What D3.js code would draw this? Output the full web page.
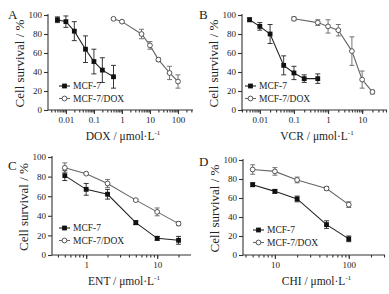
<!DOCTYPE html>
<html>
<head>
<meta charset="utf-8">
<script src="https://cdn.jsdelivr.net/npm/d3@7"></script>
<style>
  body { margin: 0; background: #fff; }
  svg { font-family: "Liberation Serif", "DejaVu Serif", serif; }
</style>
</head>
<body>
<div id="container"></div>
<script>
/* DATA */
// panel A - DOX
const concA_mcf = [0.005, 0.01, 0.02, 0.05, 0.1, 0.2, 0.5];
const survA_mcf = [95, 93, 83, 64, 51, 42, 35];
const errA_mcf = [3, 6, 10, 14, 13, 13, 12];
const concA_dox = [0.5, 1, 5, 10, 20, 50, 100];
const survA_dox = [96, 93, 80, 68, 53, 39, 30];
const errA_dox = [1, 1, 5, 4, 2, 7, 7];

// panel B - VCR
const concB_mcf = [0.005, 0.01, 0.02, 0.05, 0.1, 0.2, 0.5];
const survB_mcf = [95, 88, 80, 47, 39, 33, 33];
const errB_mcf = [2, 4, 10, 10, 7, 4, 5];
const concB_dox = [0.1, 0.5, 1, 2, 5, 10, 20];
const survB_dox = [96, 92, 88, 84, 62, 32, 19];
const errB_dox = [2, 3, 7, 6, 15, 9, 2];

// panel C - ENT
const concC = [0.5, 1, 2, 5, 10, 20];
const survC_mcf = [81, 67, 62, 33, 17, 15];
const errC_mcf = [5, 6, 5, 2, 2, 4];
const survC_dox = [89, 83, 73, 56, 44, 32];
const errC_dox = [5, 1, 4, 1, 4, 2];

// panel D - CHI
const concD = [5, 10, 20, 50, 100];
const survD_mcf = [74, 67, 59, 32, 17];
const errD_mcf = [2, 2, 3, 4, 3];
const survD_dox = [90, 88, 79, 70, 53];
const errD_dox = [5, 4, 3, 2, 3];

// tick labels
const ticksA = [0.01, 0.1, 1, 10, 100];
const ticksB = [0.01, 0.1, 1, 10];
const ticksC = [1, 10];
const ticksD = [10, 100];
const yTicks = [0, 20, 40, 60, 80, 100];
const seriesNames = ["MCF-7", "MCF-7/DOX"];

/* CONSTANTS */
const width = 389;
const height = 294;

const svg = d3.select("#container")
  .append("svg")
  .attr("width", width)
  .attr("height", height);

const zip = (xs, ys, es) => xs.map((x, i) => ({ x: x, y: ys[i], e: es[i] }));

function drawPanel(p) {
  const xScale = d3.scaleLog().domain(p.xDomain).range(p.xRange);
  const yScale = d3.scaleLinear().domain([0, 100]).range(p.yRange);
  const g = svg.append("g");

  // minor + major log ticks
  const minor = [];
  const lo = Math.floor(Math.log10(p.xDomain[0])), hi = Math.ceil(Math.log10(p.xDomain[1]));
  for (let e = lo; e <= hi; e++) {
    for (let k = 1; k <= 9; k++) {
      const v = k * Math.pow(10, e);
      if (v >= p.xDomain[0] && v <= p.xDomain[1]) minor.push(v);
    }
  }
  const xAxis = g.append("g")
    .attr("transform", `translate(0,${p.yRange[0]})`)
    .call(d3.axisBottom(xScale).tickValues(minor).tickSize(2.5).tickFormat(""));
  g.append("g")
    .attr("transform", `translate(0,${p.yRange[0]})`)
    .call(d3.axisBottom(xScale).tickValues(p.ticks).tickSize(4).tickPadding(3)
      .tickFormat(d => d3.format("~g")(d)))
    .call(a => a.select(".domain").remove());
  xAxis.select(".domain").attr("d", `M${p.xRange[0]},0H${p.xRange[1] + 1}`);

  const yAxis = g.append("g")
    .attr("transform", `translate(${p.xRange[0]},0)`)
    .call(d3.axisLeft(yScale).tickValues(yTicks).tickSize(4).tickPadding(2));
  yAxis.select(".domain").attr("d", `M0,${p.yRange[0]}V${p.yRange[1] - 1}`);

  g.selectAll(".tick text").attr("font-size", 9).attr("font-family", "Liberation Serif").attr("fill", "#222");
  g.selectAll(".domain, .tick line").attr("stroke", "#333").attr("stroke-width", 1.1);

  // axis titles
  g.append("text")
    .attr("transform", `translate(${p.xRange[0] - 24},${(p.yRange[0] + p.yRange[1]) / 2 + 1}) rotate(-90)`)
    .attr("text-anchor", "middle")
    .attr("font-size", 13)
    .attr("fill", "#222")
    .text("Cell survival / %");

  const xt = g.append("text")
    .attr("x", (p.xRange[0] + p.xRange[1]) / 2 + 3)
    .attr("y", p.yRange[0] + 30)
    .attr("text-anchor", "middle")
    .attr("font-size", 11.5)
    .attr("fill", "#222");
  xt.append("tspan").text(p.drug + " / μmol·L");
  xt.append("tspan").attr("font-size", 7).attr("dy", -5).text("-1");

  // panel letter
  g.append("text")
    .attr("x", p.letterPos[0]).attr("y", p.letterPos[1])
    .attr("font-size", 13).attr("fill", "#222")
    .text(p.letter);

  const line = d3.line().x(d => xScale(d.x)).y(d => yScale(d.y));

  p.series.forEach((s, si) => {
    const col = si === 0 ? "#222" : "#666";
    const sg = g.append("g");
    // error bars
    sg.selectAll("path.err")
      .data(s.data)
      .join("path")
      .attr("class", "err")
      .attr("d", d => {
        const x = xScale(d.x), y0 = yScale(d.y - d.e), y1 = yScale(d.y + d.e);
        return `M${x},${y0}V${y1}M${x - 2.5},${y0}H${x + 2.5}M${x - 2.5},${y1}H${x + 2.5}`;
      })
      .attr("stroke", col).attr("stroke-width", 0.9).attr("fill", "none");
    sg.append("path")
      .datum(s.data)
      .attr("d", line)
      .attr("stroke", col).attr("stroke-width", 1.1).attr("fill", "none");
    drawMarkers(sg, s.data.map(d => [xScale(d.x), yScale(d.y)]), si);
  });

  // legend
  seriesNames.forEach((name, si) => {
    const lx = p.legendPos[0], ly = p.legendPos[1] + si * 12.5;
    const col = si === 0 ? "#222" : "#666";
    g.append("line").attr("x1", lx).attr("x2", lx + 11).attr("y1", ly).attr("y2", ly)
      .attr("stroke", col).attr("stroke-width", 1.1);
    drawMarkers(g, [[lx + 5.5, ly]], si);
    g.append("text").attr("x", lx + 14).attr("y", ly + 3.3)
      .attr("font-size", 9.5).attr("fill", "#222").text(name);
  });
}

function drawMarkers(sel, pts, si) {
  if (si === 0) {
    sel.selectAll(null).data(pts).join("rect")
      .attr("x", d => d[0] - 2.4).attr("y", d => d[1] - 2.4)
      .attr("width", 4.8).attr("height", 4.8)
      .attr("fill", "#111");
  } else {
    sel.selectAll(null).data(pts).join("circle")
      .attr("cx", d => d[0]).attr("cy", d => d[1]).attr("r", 2.4)
      .attr("fill", "#fff").attr("stroke", "#555").attr("stroke-width", 1);
  }
}

drawPanel({
  letter: "A", letterPos: [8, 19], drug: "DOX",
  xDomain: [0.0023, 316], xRange: [48, 192], yRange: [110, 15], ticks: ticksA,
  legendPos: [59, 86],
  series: [{ data: zip(concA_mcf, survA_mcf, errA_mcf) }, { data: zip(concA_dox, survA_dox, errA_dox) }]
});
drawPanel({
  letter: "B", letterPos: [199, 19], drug: "VCR",
  xDomain: [0.003, 50], xRange: [242, 386], yRange: [110, 15], ticks: ticksB,
  legendPos: [245, 86],
  series: [{ data: zip(concB_mcf, survB_mcf, errB_mcf) }, { data: zip(concB_dox, survB_dox, errB_dox) }]
});
drawPanel({
  letter: "C", letterPos: [8, 170], drug: "ENT",
  xDomain: [0.33, 29], xRange: [52, 190], yRange: [255, 157], ticks: ticksC,
  legendPos: [59, 228],
  series: [{ data: zip(concC, survC_mcf, errC_mcf) }, { data: zip(concC, survC_dox, errC_dox) }]
});
drawPanel({
  letter: "D", letterPos: [199, 166], drug: "CHI",
  xDomain: [3.7, 300], xRange: [243, 384], yRange: [255, 160], ticks: ticksD,
  legendPos: [253, 230],
  series: [{ data: zip(concD, survD_mcf, errD_mcf) }, { data: zip(concD, survD_dox, errD_dox) }]
});
</script>
</body>
</html>
